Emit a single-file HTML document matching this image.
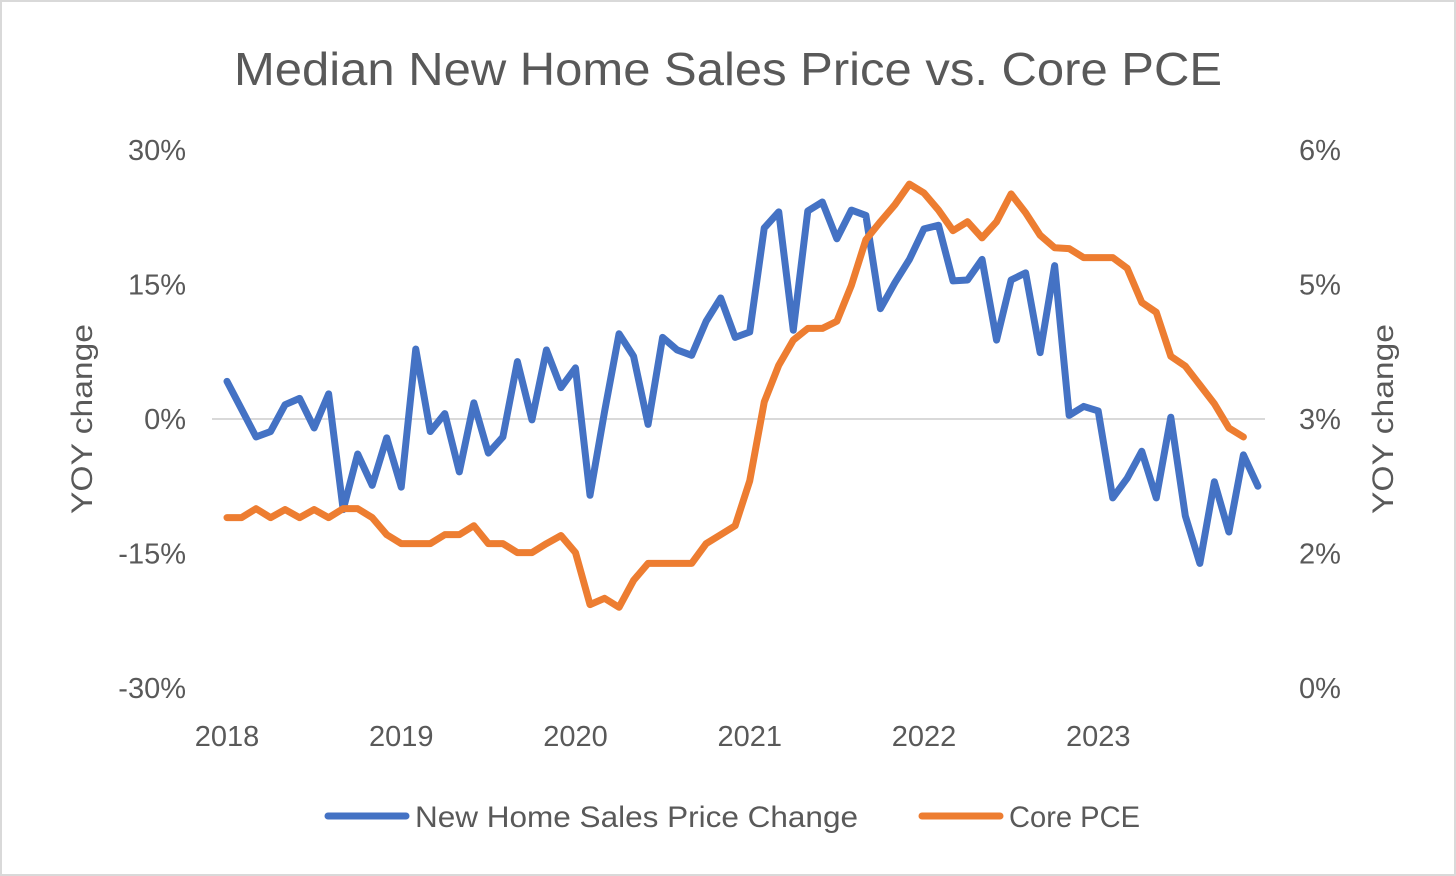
<!DOCTYPE html>
<html><head><meta charset="utf-8"><style>
body{margin:0;background:#fff;}
svg{display:block;font-family:"Liberation Sans",sans-serif;}
</style></head><body>
<svg id="chart" width="1456" height="876">
<rect x="1" y="1" width="1454" height="874" fill="#fff" stroke="#d9d9d9" stroke-width="2"/>
<text x="728" y="85" text-anchor="middle" font-size="46" textLength="988" lengthAdjust="spacingAndGlyphs" fill="#595959">Median New Home Sales Price vs. Core PCE</text>
<text transform="translate(92,419) rotate(-90)" text-anchor="middle" font-size="30" textLength="190" lengthAdjust="spacingAndGlyphs" fill="#595959">YOY change</text>
<text transform="translate(1393,419) rotate(-90)" text-anchor="middle" font-size="30" textLength="190" lengthAdjust="spacingAndGlyphs" fill="#595959">YOY change</text>
<g id="axes"></g>
<g id="series"></g>
<g>
<line x1="328" y1="816" x2="406" y2="816" stroke="#4472C4" stroke-width="7" stroke-linecap="round"/>
<text x="415" y="827" font-size="30" textLength="443" lengthAdjust="spacingAndGlyphs" fill="#595959">New Home Sales Price Change</text>
<line x1="922" y1="816" x2="1000" y2="816" stroke="#ED7D31" stroke-width="7" stroke-linecap="round"/>
<text x="1009" y="827" font-size="30" textLength="131" lengthAdjust="spacingAndGlyphs" fill="#595959">Core PCE</text>
</g>
</svg>
<script>
const years = ["2018","2019","2020","2021","2022","2023"];
const leftTicks = [-30,-15,0,15,30];
const leftTickLabels = ["-30%","-15%","0%","15%","30%"];
const rightTicks = [0,1.5,3,4.5,6];
const rightTickLabels = ["0%","2%","3%","5%","6%"];
const homePriceChange = [4.2,1.1,-2.0,-1.4,1.6,2.3,-1.0,2.8,-10.1,-3.9,-7.4,-2.1,-7.6,7.8,-1.4,0.6,-5.9,1.8,-3.8,-2.0,6.4,-0.1,7.7,3.5,5.7,-8.5,0.8,9.5,7.0,-0.6,9.1,7.7,7.1,10.9,13.5,9.1,9.7,21.3,23.1,9.9,23.2,24.2,20.1,23.3,22.7,12.3,15.2,17.8,21.2,21.6,15.4,15.5,17.8,8.8,15.5,16.3,7.4,17.1,0.4,1.4,0.9,-8.8,-6.6,-3.6,-8.8,0.2,-10.8,-16.1,-7.0,-12.6,-4.0,-7.5];
const corePCE = [1.90,1.90,2.00,1.90,1.99,1.90,1.99,1.90,2.00,2.00,1.90,1.71,1.61,1.61,1.61,1.71,1.71,1.81,1.61,1.61,1.51,1.51,1.61,1.70,1.51,0.93,1.00,0.90,1.20,1.39,1.39,1.39,1.39,1.61,1.71,1.81,2.31,3.19,3.60,3.88,4.01,4.01,4.09,4.49,5.00,5.20,5.39,5.62,5.52,5.33,5.10,5.20,5.02,5.20,5.51,5.30,5.05,4.91,4.90,4.80,4.80,4.80,4.68,4.30,4.19,3.70,3.59,3.38,3.17,2.90,2.80];

const NS="http://www.w3.org/2000/svg";
const X0=227, MONTH=14.52;
const xPos = i => X0 + i*MONTH;
const yLeft = v => 419 - v*(134.5/15);
const yRight = v => 688 - v*(538/6);
const axes=document.getElementById('axes'), series=document.getElementById('series');
function mk(tag,attrs,parent){const e=document.createElementNS(NS,tag);for(const k in attrs)e.setAttribute(k,attrs[k]);parent.appendChild(e);return e;}

const zl=mk('line',{x1:212,x2:1265,y1:yLeft(0),y2:yLeft(0),stroke:'#d9d9d9','stroke-width':2},axes);



leftTicks.forEach((t,i)=>{
  const e=mk('text',{x:186,y:yLeft(t)+10,'text-anchor':'end','font-size':29,fill:'#595959'},axes);
  e.textContent=leftTickLabels[i];
  
  
});
rightTicks.forEach((t,i)=>{
  const e=mk('text',{x:1299,y:yRight(t)+10,'text-anchor':'start','font-size':29,fill:'#595959'},axes);
  e.textContent=rightTickLabels[i];
  
  
});
years.forEach((y,i)=>{
  const e=mk('text',{x:xPos(i*12),y:746,'text-anchor':'middle','font-size':29,fill:'#595959'},axes);
  e.textContent=y;
  
  
});

const p1=mk('polyline',{points:homePriceChange.map((v,i)=>xPos(i)+','+yLeft(v)).join(' '),fill:'none',stroke:'#4472C4','stroke-width':7,'stroke-linejoin':'round','stroke-linecap':'round'},series);


const p2=mk('polyline',{points:corePCE.map((v,i)=>xPos(i)+','+yRight(v)).join(' '),fill:'none',stroke:'#ED7D31','stroke-width':7,'stroke-linejoin':'round','stroke-linecap':'round'},series);


</script>
</body></html>
